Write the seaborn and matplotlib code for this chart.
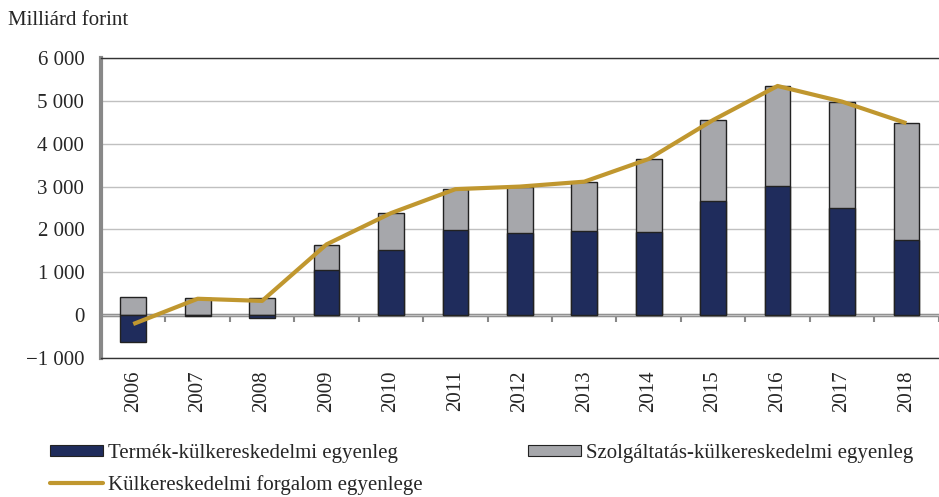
import numpy as np
import pandas as pd
import seaborn as sns
import matplotlib
matplotlib.use("Agg")
from matplotlib import pyplot as plt
from matplotlib.patches import Patch
from matplotlib.lines import Line2D

years = ['2006', '2007', '2008', '2009', '2010', '2011', '2012',
         '2013', '2014', '2015', '2016', '2017', '2018']
# Termék-külkereskedelmi egyenleg (goods balance)
goods = [-630, -20, -60, 1050, 1520, 1985, 1925, 1960, 1930, 2665, 3020, 2505, 1750]
# Szolgáltatás-külkereskedelmi egyenleg (services balance)
services = [420, 400, 390, 580, 860, 955, 1075, 1155, 1715, 1890, 2330, 2480, 2730]
# Külkereskedelmi forgalom egyenlege (total balance)
total = [-210, 380, 330, 1650, 2380, 2940, 3000, 3115, 3645, 4555, 5350, 4985, 4480]

navy = '#1f2c5c'
grey = '#a6a7ab'
gold = '#c0972f'

df = pd.DataFrame({'year': years, 'goods': goods, 'services': services, 'total': total})
# grey bar sits on top of positive goods, from zero when goods is negative
df['serv_top'] = df['services'] + df['goods'].clip(lower=0)
df['pos'] = np.arange(len(df))

sns.set_style('white')
plt.rcParams['font.family'] = ['Liberation Serif', 'DejaVu Serif']
fs = 15
plt.rcParams['font.size'] = fs

fig = plt.figure(figsize=(9.39, 4.97), dpi=100)
ax = fig.add_axes([0.1076, 0.280, 0.892, 0.603])

ax.set_axisbelow(True)
ax.yaxis.grid(True, color='#c0c0c0', lw=1)

sns.barplot(data=df, x='year', y='serv_top', color=grey, saturation=1,
            width=0.4, edgecolor='#222222', linewidth=1, ax=ax, zorder=2)
sns.barplot(data=df, x='year', y='goods', color=navy, saturation=1,
            width=0.4, edgecolor='#222222', linewidth=1, ax=ax, zorder=3)
ax.plot(df['pos'], df['total'], color=gold, lw=3, zorder=4, solid_capstyle='butt')

yt = np.arange(-1000, 6001, 1000)
ax.set_ylim(-1000, 6000)
ax.set_xlim(-0.5, 12.5)
ax.set_yticks(yt)
ax.set_yticklabels([f'{v:,}'.replace(',', ' ').replace('-', '\u2212') for v in yt])
ax.set_xlabel('')
ax.set_ylabel('')

ax.set_xticks(df['pos'])
ax.set_xticklabels(years, rotation=90)
ax.tick_params(axis='x', length=0, pad=9, labelsize=fs)
ax.tick_params(axis='y', length=5, width=1.5, color='#888888', direction='out',
               pad=7, labelsize=fs)

for s in ['top', 'bottom']:
    ax.spines[s].set_color('#333333')
    ax.spines[s].set_linewidth(1)
ax.spines['right'].set_visible(False)
ax.spines['left'].set_color('#888888')
ax.spines['left'].set_linewidth(3)

# category axis crosses at zero
zero_frac = (0 - ax.get_ylim()[0]) / (ax.get_ylim()[1] - ax.get_ylim()[0])
sec = ax.secondary_xaxis(zero_frac)
sec.set_xticks(np.arange(-0.5, 13, 1))
sec.set_xticklabels([])
sec.tick_params(length=5, width=1.5, color='#888888', direction='out')
sec.spines['bottom'].set_color('#888888')
sec.spines['bottom'].set_linewidth(2.5)
sec.spines['bottom'].set_zorder(5)

fig.text(0.009, 0.958, 'Milliárd forint', fontsize=fs, va='center', ha='left')

handles = [Patch(facecolor=navy, edgecolor='#222222', lw=0.8),
           Line2D([0], [0], color=gold, lw=3),
           Patch(facecolor=grey, edgecolor='#222222', lw=0.8)]
labels = ['Termék-külkereskedelmi egyenleg',
          'Külkereskedelmi forgalom egyenlege',
          'Szolgáltatás-külkereskedelmi egyenleg']
fig.legend(handles, labels, ncol=2, loc='upper left', bbox_to_anchor=(0.053, 0.106),
           bbox_transform=fig.transFigure, frameon=False, borderpad=0, borderaxespad=0,
           handlelength=2.55, handleheight=0.45, handletextpad=0.25,
           columnspacing=5.05, labelspacing=0.55, fontsize=fs)

fig.savefig('out.png', dpi=100)
